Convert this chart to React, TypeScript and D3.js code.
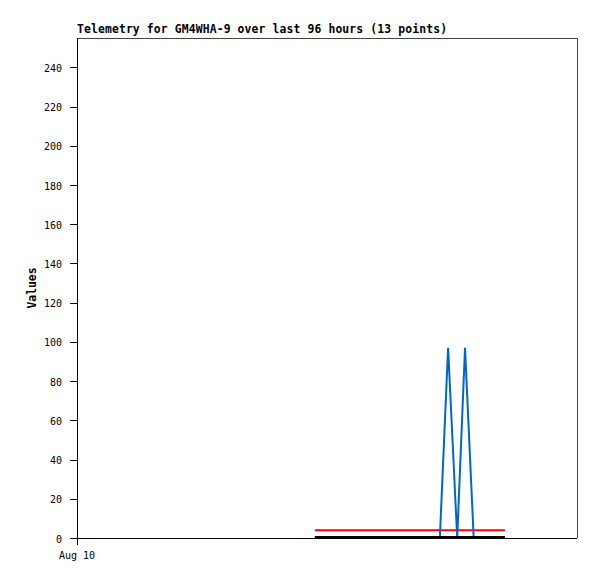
import { FC } from 'react';
import * as d3 from 'd3';

const title = 'Telemetry for GM4WHA-9 over last 96 hours (13 points)';
const yTicks = [0, 20, 40, 60, 80, 100, 120, 140, 160, 180, 200, 220, 240];
const xTickLabels = ['Aug 10'];

// 13 sample times (shared by every series)
const times = [
  '2024-08-11T21:40', '2024-08-11T23:50', '2024-08-12T03:00', '2024-08-12T09:30',
  '2024-08-12T15:00', '2024-08-12T19:00', '2024-08-12T21:40', '2024-08-12T23:15',
  '2024-08-13T01:00', '2024-08-13T02:30', '2024-08-13T04:10', '2024-08-13T07:00',
  '2024-08-13T10:10',
];
const blueValues = [0, 0, 0, 0, 0, 0, 0, 97, 0, 97, 0, 0, 0];
const redValues = [4, 4, 4, 4, 4, 4, 4, 4, 4, 4, 4, 4, 4];
const blackValues = [0, 0, 0, 0, 0, 0, 0, 0, 0, 0, 0, 0, 0];

const W = 597;
const H = 579;
const margin = { top: 38, right: 20, bottom: 41, left: 77 };

const App: FC = () => {
  const x = d3
    .scaleTime()
    .domain([new Date('2024-08-10T00:00'), new Date('2024-08-14T00:00')])
    .range([margin.left, W - margin.right]);
  const y = d3.scaleLinear().domain([0, 255]).range([H - margin.bottom, margin.top]);

  const dates = times.map(t => new Date(t));
  const line = d3
    .line<number>()
    .x((_, i) => x(dates[i]))
    .y(d => y(d));

  const mono = '"DejaVu Sans Mono", monospace';
  const x0 = margin.left;
  const x1 = W - margin.right;
  const y0 = H - margin.bottom;
  const y1 = margin.top;

  return (
    <svg
      width={W}
      height={H}
      style={{ position: 'absolute', left: 0, top: 0, background: '#fff' }}
    >
      <rect x={0} y={0} width={W} height={H} fill="#fff" />
      {/* frame */}
      <path d={`M${x0},${y1 + 0.5}H${x1 + 0.5}V${y0}`} fill="none" stroke="#444" />
      <text
        x={x0}
        y={33}
        fontFamily={mono}
        fontWeight="bold"
        fontSize={11.4}
        textLength={370}
        lengthAdjust="spacing"
      >
        {title}
      </text>

      {/* series */}
      <path d={line(redValues) ?? ''} fill="none" stroke="#ff0000" strokeWidth={2} />
      <path d={line(blueValues) ?? ''} fill="none" stroke="#0066cc" strokeWidth={2} />
      <path
        d={line(blackValues) ?? ''}
        fill="none"
        stroke="#000"
        strokeWidth={2}
        transform="translate(0,-1)"
      />

      {/* y axis */}
      <line x1={x0 + 0.5} x2={x0 + 0.5} y1={y1} y2={y0 + 7} stroke="#000" />
      {yTicks.map(t => (
        <g key={t}>
          <line x1={x0 - 7} x2={x0} y1={Math.round(y(t)) + 0.5} y2={Math.round(y(t)) + 0.5} stroke="#000" />
          <text
            x={62}
            y={y(t) + 1}
            dy="0.35em"
            textAnchor="end"
            fontFamily={mono}
            fontSize={10}
          >
            {t}
          </text>
        </g>
      ))}

      {/* x axis */}
      <line x1={x0 - 7} x2={x1} y1={y0 + 0.5} y2={y0 + 0.5} stroke="#000" />
      {xTickLabels.map((lbl, i) => (
        <text
          key={lbl}
          x={x(new Date('2024-08-10T00:00')) + i}
          y={559}
          textAnchor="middle"
          fontFamily={mono}
          fontSize={10}
        >
          {lbl}
        </text>
      ))}

      <text
        transform={`translate(36,${(y0 + y1) / 2}) rotate(-90)`}
        textAnchor="middle"
        fontFamily={mono}
        fontWeight="bold"
        fontSize={11.4}
      >
        Values
      </text>
    </svg>
  );
};

export default App;
